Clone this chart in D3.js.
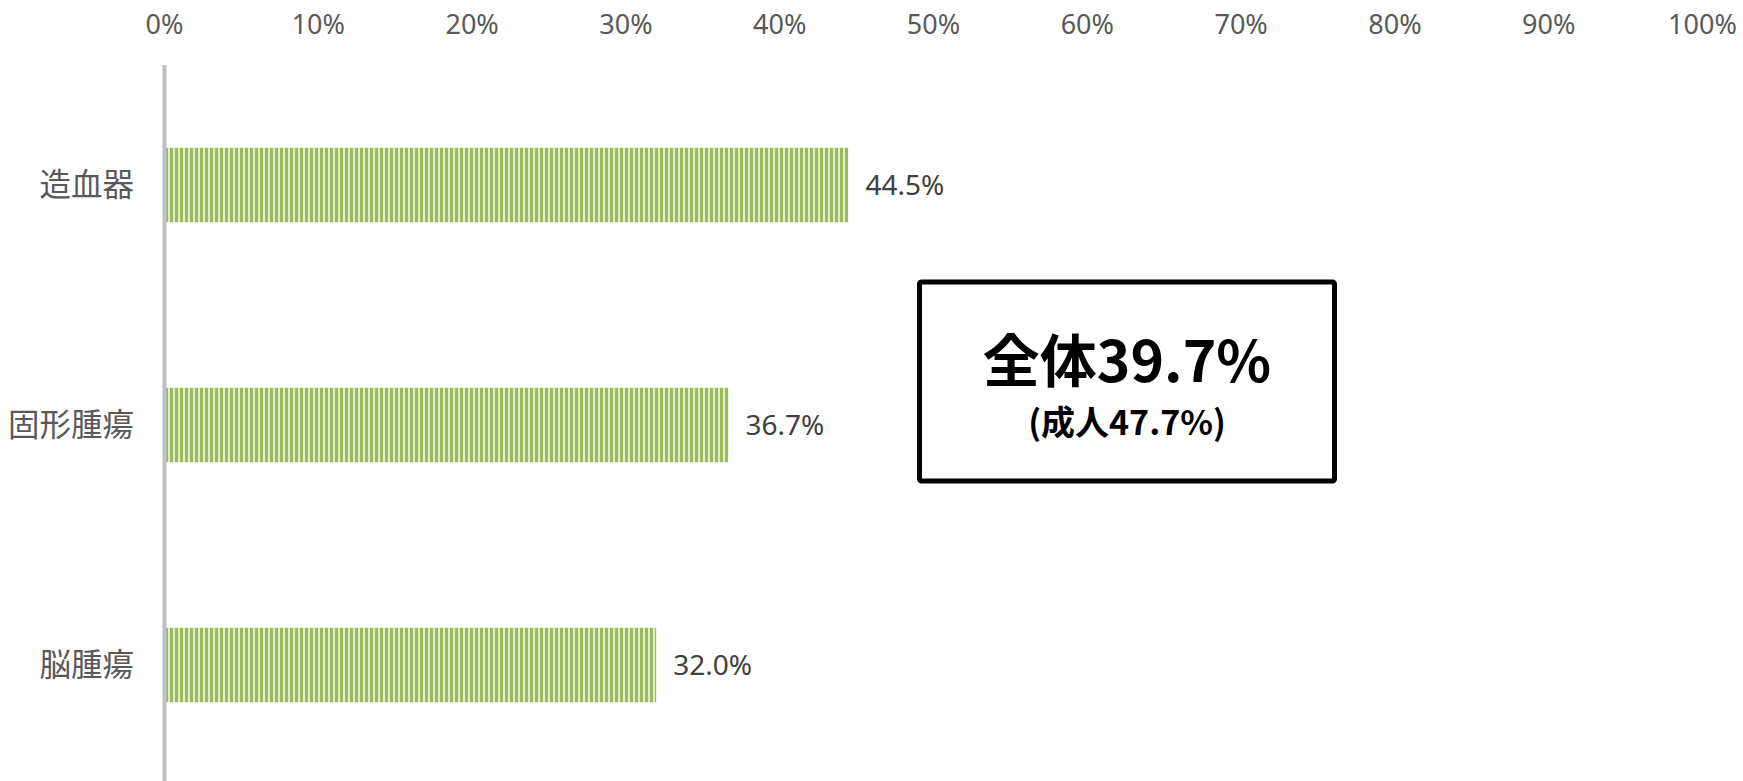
<!DOCTYPE html>
<html>
<head>
<meta charset="utf-8">
<script src="https://cdn.jsdelivr.net/npm/d3@7"></script>
<style>
  body { margin: 0; background: white; }
  svg { display: block; }
</style>
</head>
<body>
<div id="container"></div>
<script>
let w = 1743;
let h = 781;

// data
let categories = ["造血器", "固形腫瘍", "脳腫瘍"];
let values = [44.5, 36.7, 32.0];
let tickValues = [0, 10, 20, 30, 40, 50, 60, 70, 80, 90, 100];
let boxMain = "全体39.7%";
let boxSub = "(成人47.7%)";

let viz = d3.select("#container")
  .append("svg")
    .attr("width", w)
    .attr("height", h)
    .style("background-color", "white")
;

// striped fill like the excel pattern
let defs = viz.append("defs");
let pat = defs.append("pattern")
    .attr("id", "stripes")
    .attr("patternUnits", "userSpaceOnUse")
    .attr("width", 5)
    .attr("height", 10)
;
pat.append("rect").attr("width", 5).attr("height", 10).attr("fill", "#e4ebd3");
pat.append("rect").attr("width", 3).attr("height", 10).attr("fill", "#9bbb59");

let xScale = d3.scaleLinear().domain([0, 100]).range([164, 1702]);
let yScale = d3.scaleBand().domain(categories).range([65, 785]).paddingInner(0.69).paddingOuter(0.345);

// top axis labels
let xAxis = d3.axisTop(xScale)
  .tickValues(tickValues)
  .tickFormat(d => d + "%")
  .tickSize(0)
  .tickPadding(0);

let axisG = viz.append("g")
    .attr("transform", "translate(0,34)")
    .call(xAxis);
axisG.select(".domain").remove();
axisG.selectAll("text")
    .attr("fill", "#595959")
    .attr("dy", 0)
    .style("font-family", "'Noto Sans', sans-serif")
    .style("font-size", "27px");

// bars
let bars = viz.selectAll(".bar").data(values).enter()
  .append("rect")
    .classed("bar", true)
    .attr("x", xScale(0))
    .attr("y", (d, i) => yScale(categories[i]))
    .attr("width", d => xScale(d) - xScale(0))
    .attr("height", yScale.bandwidth())
    .attr("fill", "url(#stripes)")
;

// value labels
viz.selectAll(".val").data(values).enter()
  .append("text")
    .classed("val", true)
    .attr("x", d => xScale(d) + 17)
    .attr("y", (d, i) => yScale(categories[i]) + yScale.bandwidth() / 2)
    .attr("dy", "0.35em")
    .attr("fill", "#404040")
    .style("font-family", "'Noto Sans', sans-serif")
    .style("font-size", "28px")
    .text(d => d.toFixed(1) + "%")
;

// category labels
viz.selectAll(".cat").data(categories).enter()
  .append("text")
    .classed("cat", true)
    .attr("x", 134)
    .attr("y", d => yScale(d) + yScale.bandwidth() / 2)
    .attr("dy", "0.36em")
    .attr("text-anchor", "end")
    .attr("fill", "#595959")
    .style("font-family", "'Noto Sans CJK JP', sans-serif")
    .style("font-size", "31.5px")
    .text(d => d)
;

// vertical axis line
viz.append("line")
    .attr("x1", 164.5).attr("x2", 164.5)
    .attr("y1", 65).attr("y2", h)
    .attr("stroke", "#bfbfbf")
    .attr("stroke-width", 4)
;

// summary box
let box = viz.append("g");
box.append("rect")
    .attr("x", 919.5).attr("y", 282)
    .attr("width", 415).attr("height", 199)
    .attr("fill", "white")
    .attr("stroke", "black")
    .attr("stroke-width", 5)
    .attr("rx", 2)
;
box.append("text")
    .attr("x", 1127).attr("y", 382)
    .attr("text-anchor", "middle")
    .style("font-family", "'Noto Sans CJK JP', sans-serif")
    .style("font-weight", "bold")
    .style("font-size", "57px")
    .text(boxMain)
;
box.append("text")
    .attr("x", 1127).attr("y", 435)
    .attr("text-anchor", "middle")
    .style("font-family", "'Noto Sans CJK JP', sans-serif")
    .style("font-weight", "bold")
    .style("font-size", "34px")
    .text(boxSub)
;
</script>
</body>
</html>
